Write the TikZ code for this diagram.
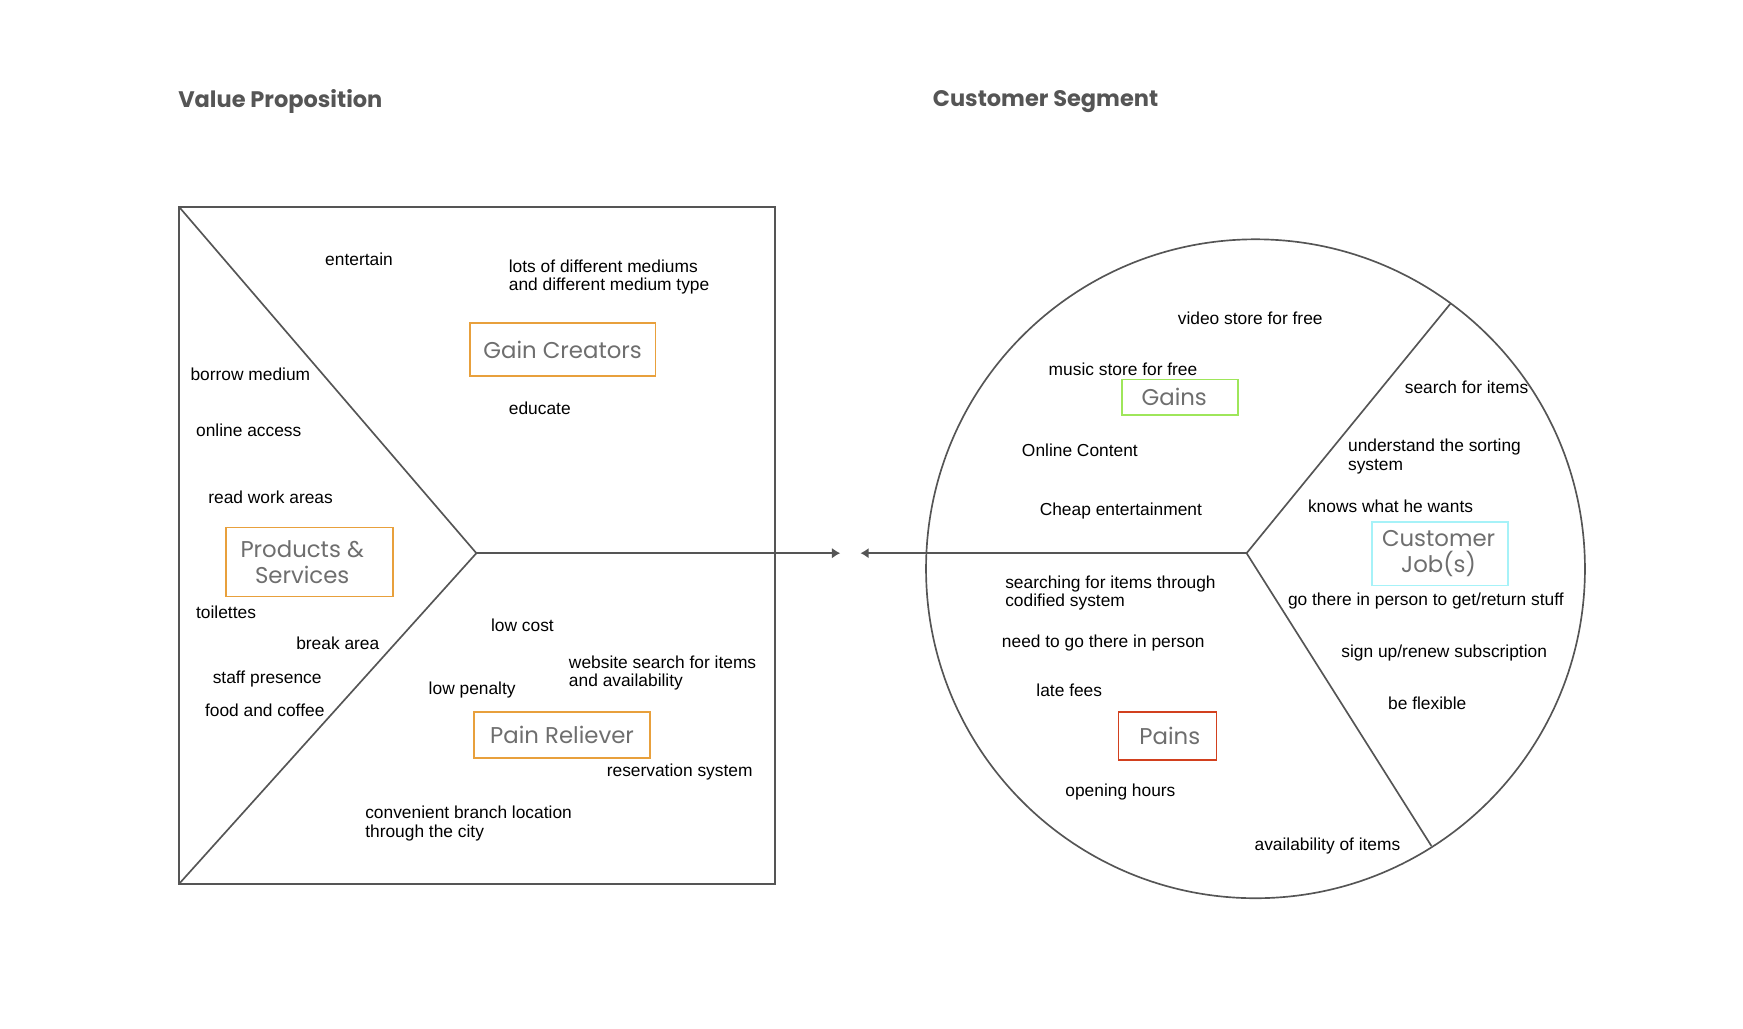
\documentclass[tikz,border=0pt]{standalone}
\usepackage{fontspec}
\setmainfont{Liberation Sans}
\newfontfamily\hfont{Poppins}
\usetikzlibrary{arrows.meta}
\definecolor{linegray}{HTML}{555555}
\definecolor{labelgray}{HTML}{6E6E6E}
\definecolor{headgray}{HTML}{555555}
\definecolor{orangebox}{HTML}{E8A03C}
\definecolor{greenbox}{HTML}{9EE65A}
\definecolor{cyanbox}{HTML}{A6F2F8}
\definecolor{redbox}{HTML}{D2401E}
\tikzset{
  body/.style={anchor=west,inner sep=0pt,align=left,font=\fontsize{15.6}{16.5}\selectfont,text=black},
  header/.style={anchor=west,inner sep=0pt,font=\hfont\bfseries\fontsize{20.2}{22}\selectfont,text=headgray},
  tag/.style={draw=#1,line width=1.6pt,inner sep=0pt,align=center,text=labelgray,font=\hfont\fontsize{20.5}{24}\selectfont},
  frame/.style={draw=linegray,line width=1.5pt},
  conn/.style={draw=linegray,line width=1.5pt,-{Latex[length=7.5pt,width=9.5pt]}}
}
\begin{document}
\begin{tikzpicture}[x=1pt,y=-1pt]
\useasboundingbox (0,0) rectangle (1566,924);
% headers
\node[header] (hvp) at (160,91) {Value Proposition};
\node[header] (hcs) at (838,91) {Customer Segment};
% left square
\draw[frame] (161,186) rectangle (696,794);
\coordinate (tl) at (161,186);
\coordinate (bl) at (161,794);
\coordinate (apex) at (428,497);
\coordinate (tipL) at (755,497);
\draw[frame] (tl) -- (apex) -- (bl);
\draw[conn] (apex) -- (tipL);
% circle
\coordinate (cc) at (1128,511);
\draw[frame] (cc) circle (296);
\coordinate (junc) at (1120,497);
\coordinate (tipR) at (773,497);
\coordinate (ctop) at (1303,273);
\coordinate (cbot) at (1286,760);
\draw[frame] (junc) -- (ctop);
\draw[frame] (junc) -- (cbot);
\draw[conn] (junc) -- (tipR);
% tags
\node[tag=orangebox,minimum width=167pt,minimum height=48pt] (gc) at (505.5,314) {Gain Creators};
\node[tag=orangebox,minimum width=150pt,minimum height=62pt] (ps) at (278,505) {Products \&\hspace*{13pt}\\[-1pt]Services\hspace*{13pt}};
\node[tag=orangebox,minimum width=158pt,minimum height=41pt] (pr) at (505,660.5) {Pain Reliever};
\node[tag=greenbox,minimum width=104pt,minimum height=32pt] (gains) at (1060,357) {\hspace*{-10pt}Gains};
\node[tag=cyanbox,minimum width=122pt,minimum height=57pt] (cj) at (1294,497.5) {Customer\hspace*{3pt}\\[-1pt]Job(s)\hspace*{3pt}};
\node[tag=redbox,minimum width=88pt,minimum height=43pt] (pains) at (1049,661.5) {\hspace*{4pt}Pains};
% left texts
\node[body] (t1) at (292,233) {entertain};
\node[body] (t2) at (457,249) {lots of different mediums\\and different medium type};
\node[body] (t3) at (171,336) {borrow medium};
\node[body] (t4) at (176,387) {online access};
\node[body] (t5) at (457,367) {educate};
\node[body] (t6) at (187,447) {read work areas};
\node[body] (t7) at (176,550) {toilettes};
\node[body] (t8) at (266,578) {break area};
\node[body] (t9) at (191,610) {staff presence};
\node[body] (t10) at (184,638) {food and coffee};
\node[body] (t11) at (441,562) {low cost};
\node[body] (t12) at (511,604.5) {website search for items\\and availability};
\node[body] (t13) at (385,620) {low penalty};
\node[body] (t14) at (545,694) {reservation system};
\node[body] (t15) at (328,740) {convenient branch location\\through the city};
% right texts
\node[body] (r1) at (1058,286) {video store for free};
\node[body] (r2) at (942,332) {music store for free};
\node[body] (r3) at (918,405) {Online Content};
\node[body] (r4) at (934,459) {Cheap entertainment};
\node[body] (r5) at (1262,348) {search for items};
\node[body] (r6) at (1211,410) {understand the sorting\\system};
\node[body] (r7) at (1175,455) {knows what he wants};
\node[body] (r8) at (1157,540) {go there in person to get/return stuff};
\node[body] (r9) at (1205,587) {sign up/renew subscription};
\node[body] (r10) at (1247,632) {be flexible};
\node[body] (r11) at (903,532.5) {searching for items through\\codified system};
\node[body] (r12) at (900,578) {need to go there in person};
\node[body] (r13) at (931,620) {late fees};
\node[body] (r14) at (957,712) {opening hours};
\node[body] (r15) at (1127,760) {availability of items};
\end{tikzpicture}
\end{document}
